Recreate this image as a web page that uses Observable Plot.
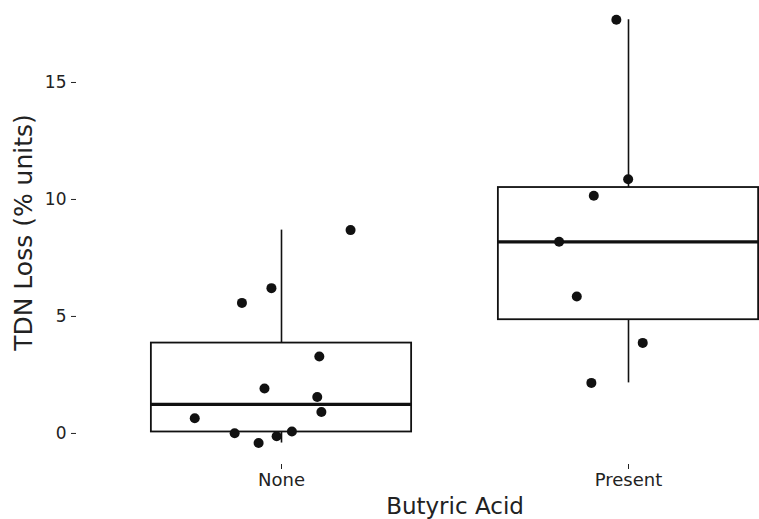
<!DOCTYPE html>
<html>
<head>
<meta charset="utf-8">
<script src="https://cdn.jsdelivr.net/npm/d3@7"></script>
<script src="https://cdn.jsdelivr.net/npm/@observablehq/plot@0.6"></script>
<style>
  html, body { margin: 0; padding: 0; background: white; overflow: hidden; }
  #chart svg { display: block; }
</style>
</head>
<body>
<div id="chart"></div>
<script>
// Categories and their numeric positions on the x axis
const categories = ["None", "Present"];
const categoryPositions = [1, 2];

// TDN loss values (% units)
const noneValues = [8.69, 6.21, 5.58, 3.29, 1.92, 1.56, 0.92, 0.65, 0.01, 0.08, -0.12, -0.41];
const presentValues = [17.68, 10.86, 10.16, 8.19, 5.85, 3.87, 2.16];

// horizontal jitter of each point (in category units)
const noneJitter = [0.199, -0.029, -0.114, 0.109, -0.049, 0.103, 0.115, -0.25, -0.135, 0.03, -0.014, -0.066];
const presentJitter = [-0.035, -0.001, -0.1, -0.2, -0.149, 0.041, -0.107];

const yTicks = [0, 5, 10, 15];
const xLabel = "Butyric Acid";
const yLabel = "TDN Loss (% units)";

const groups = [
  {cat: categories[0], pos: categoryPositions[0], values: noneValues, jitter: noneJitter},
  {cat: categories[1], pos: categoryPositions[1], values: presentValues, jitter: presentJitter}
];

const halfWidth = 0.375;
const stats = groups.map(g => {
  const v = g.values.slice().sort(d3.ascending);
  const q1 = d3.quantile(v, 0.25), q2 = d3.quantile(v, 0.5), q3 = d3.quantile(v, 0.75);
  const iqr = q3 - q1;
  const hi = d3.max(v.filter(d => d <= q3 + 1.5 * iqr));
  const lo = d3.min(v.filter(d => d >= q1 - 1.5 * iqr));
  return {pos: g.pos, x1: g.pos - halfWidth, x2: g.pos + halfWidth, q1, q2, q3, lo, hi};
});

const points = groups.flatMap(g => g.values.map((v, i) => ({x: g.pos + g.jitter[i], y: v})));

const allVals = noneValues.concat(presentValues);
const yMin = d3.min(allVals), yMax = d3.max(allVals);
const yPad = (yMax - yMin) * 0.05;

const W = 759, H = 519;
const plot = Plot.plot({
  width: W,
  height: H,
  marginLeft: 76,
  marginRight: 0,
  marginTop: 0,
  marginBottom: 55,
  style: {fontFamily: "DejaVu Sans", fontSize: "17px", color: "#222", background: "white"},
  x: {domain: [0.4, 2.6], range: [72.8, 836.2]},
  y: {domain: [yMin - yPad, yMax + yPad], range: [463.7, -1.9]},
  marks: [
    Plot.ruleX(stats, {x: "pos", y1: "q3", y2: "hi", stroke: "#111", strokeWidth: 1.6}),
    Plot.ruleX(stats, {x: "pos", y1: "lo", y2: "q1", stroke: "#111", strokeWidth: 1.6}),
    Plot.rectY(stats, {x1: "x1", x2: "x2", y1: "q1", y2: "q3", fill: "white", stroke: "#111", strokeWidth: 1.8}),
    Plot.ruleY(stats, {y: "q2", x1: "x1", x2: "x2", stroke: "#111", strokeWidth: 3.2}),
    Plot.dot(points, {x: "x", y: "y", r: 5, fill: "#111", stroke: "none"}),
    Plot.axisY(yTicks, {
      tickSize: 5, tickPadding: 5, fontSize: 17, stroke: "#222", label: null
    }),
    Plot.axisX(categoryPositions, {
      tickSize: 5, tickPadding: 4, fontSize: 18, stroke: "#222",
      tickFormat: (d, i) => categories[i], label: null
    }),
    Plot.text([xLabel], {x: [1.5], frameAnchor: "bottom", dy: 42, text: d => d, fontSize: 23, fill: "#222", lineAnchor: "middle"}),
    Plot.text([yLabel], {frameAnchor: "left", dx: -53, rotate: -90, text: d => d, fontSize: 25, fill: "#222", lineAnchor: "middle", textAnchor: "middle"})
  ]
});
document.getElementById("chart").appendChild(plot);
</script>
</body>
</html>
